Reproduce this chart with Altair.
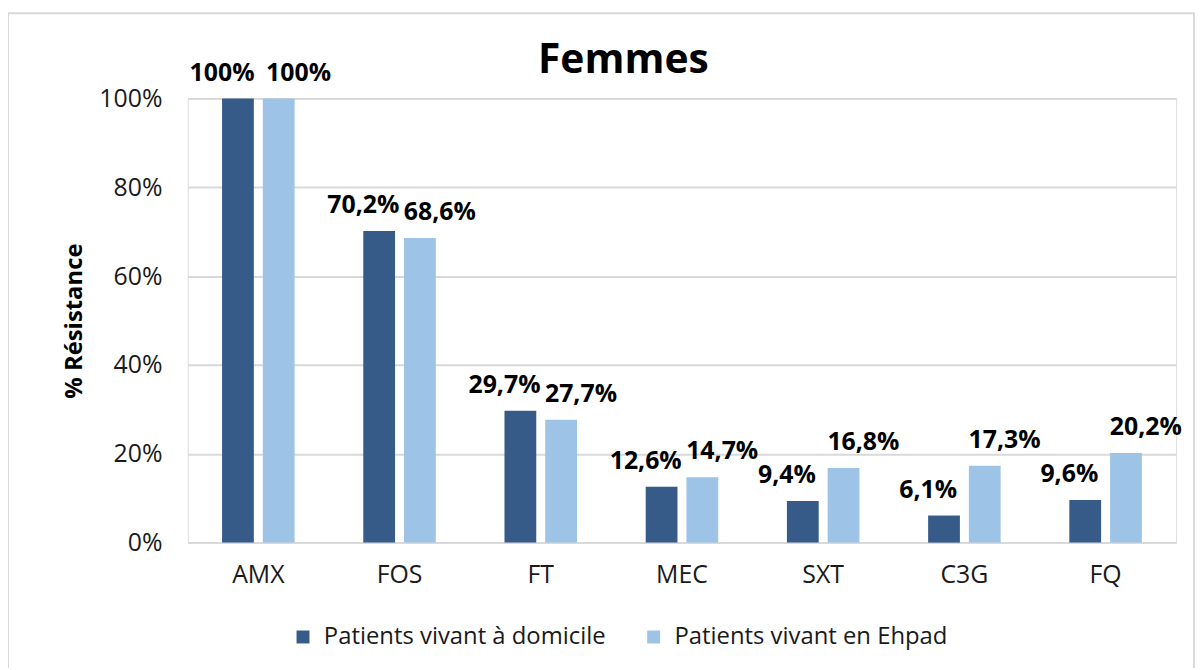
import altair as alt
import pandas as pd

categories = ["AMX", "FOS", "FT", "MEC", "SXT", "C3G", "FQ"]
series = ["Patients vivant à domicile", "Patients vivant en Ehpad"]
domicile = [100, 70.2, 29.7, 12.6, 9.4, 6.1, 9.6]
ehpad = [100, 68.6, 27.7, 14.7, 16.8, 17.3, 20.2]
colors = ["#375B89", "#9DC3E6"]


def fmt(v):
    if v == int(v):
        return f"{int(v)}%"
    return f"{v:.1f}".replace(".", ",") + "%"


rows = []
for i, c in enumerate(categories):
    rows.append({"cat": c, "serie": series[0], "v": domicile[i], "lab": fmt(domicile[i]), "k": 0})
    rows.append({"cat": c, "serie": series[1], "v": ehpad[i], "lab": fmt(ehpad[i]), "k": 1})
df = pd.DataFrame(rows)

FONT = "Open Sans"

xenc = alt.X(
    "cat:N",
    sort=categories,
    title=None,
    scale=alt.Scale(paddingInner=0.423, paddingOuter=0.211),
    axis=alt.Axis(
        labelAngle=0, labelFontSize=25, labelColor="#1a1a1a", labelFont=FONT,
        labelPadding=20, ticks=False, domainColor="#d9d9d9", domainWidth=2,
        grid=False,
    ),
)
yenc = alt.Y(
    "v:Q",
    title="% Résistance",
    scale=alt.Scale(domain=[0, 100], nice=False),
    axis=alt.Axis(
        values=[0, 20, 40, 60, 80, 100], labelExpr="datum.value + '%'",
        labelFontSize=25, labelColor="#1a1a1a", labelFont=FONT, labelPadding=26,
        ticks=False, domain=False, gridColor="#d9d9d9", gridWidth=2,
        titleFont=FONT, titleFontSize=24, titleFontWeight="bold",
        titleColor="#000000", titlePadding=12,
    ),
)
xoff = alt.XOffset("serie:N", sort=series,
                   scale=alt.Scale(paddingInner=0.22, paddingOuter=0.11))
color = alt.Color(
    "serie:N",
    sort=series,
    scale=alt.Scale(domain=series, range=colors),
    legend=alt.Legend(
        title=None, orient="none", legendX=104, legendY=530,
        direction="horizontal", symbolType="square",
        symbolSize=170, symbolStrokeWidth=0, labelFontSize=24, labelFont=FONT,
        labelColor="#1a1a1a", columnPadding=36, labelLimit=500,
        labelOffset=9,
    ),
)

bars = alt.Chart(df).mark_bar().encode(x=xenc, y=yenc, xOffset=xoff, color=color)

lab_dom = alt.Chart(df).transform_filter("datum.k == 0").mark_text(
    font=FONT, fontSize=25, fontWeight="bold", baseline="bottom", dy=-13, dx=-16,
    color="#000000",
).encode(x=alt.X("cat:N", sort=categories), y="v:Q", xOffset=xoff, text="lab:N")

lab_eh = alt.Chart(df).transform_filter("datum.k == 1").mark_text(
    font=FONT, fontSize=25, fontWeight="bold", baseline="bottom", dy=-13, dx=20,
    color="#000000",
).encode(x=alt.X("cat:N", sort=categories), y="v:Q", xOffset=xoff, text="lab:N")

frame = alt.Chart(pd.DataFrame({"a": [0]})).mark_rect(
    fill=None, stroke="#d9d9d9", strokeWidth=2
).encode(
    x=alt.value(-181), x2=alt.value(1013), y=alt.value(-86), y2=alt.value(700)
)

chart = alt.layer(frame, bars, lab_dom, lab_eh).properties(
    width=995,
    height=447,
    autosize=alt.AutoSizeParams(type="none"),
    padding={"left": 181, "top": 89, "right": 19, "bottom": 124},
    title=alt.TitleParams(
        "Femmes", font=FONT, fontSize=41, fontWeight="bold", color="#000000",
        anchor="middle", frame="group", dx=-59, offset=0, dy=70,
    ),
).configure_view(stroke=None).configure(background="white")

chart.save("out.html", embed_options={"renderer": "svg", "actions": False})
